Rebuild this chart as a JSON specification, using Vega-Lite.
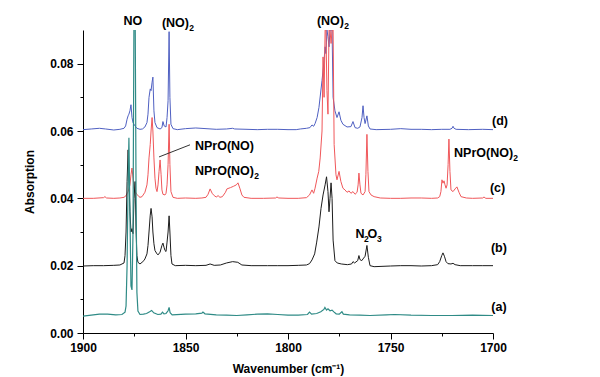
{
  "$schema": "https://vega.github.io/schema/vega-lite/v6.json",
  "width": 410,
  "height": 303,
  "autosize": {"type": "none"},
  "padding": {"left": 83, "top": 30, "right": 107, "bottom": 44},
  "background": "white",
  "config": {
    "view": {"stroke": null},
    "font": "Liberation Sans"
  },
  "datasets": {
    "d": [
      {"wn":1900,"abs":0.0604},{"wn":1896,"abs":0.0606},{"wn":1892,"abs":0.0608},{"wn":1889,"abs":0.0606},{"wn":1885,"abs":0.0603},{"wn":1882,"abs":0.0605},{"wn":1880,"abs":0.0608},{"wn":1879.2,"abs":0.0615},{"wn":1878.5,"abs":0.0635},{"wn":1878,"abs":0.0645},{"wn":1877.6,"abs":0.065},{"wn":1877.1,"abs":0.066},{"wn":1876.6,"abs":0.0678},{"wn":1876.1,"abs":0.064},{"wn":1875.6,"abs":0.0625},{"wn":1875.1,"abs":0.062},{"wn":1874.6,"abs":0.0615},{"wn":1873.7,"abs":0.0608},{"wn":1872.2,"abs":0.0605},{"wn":1871,"abs":0.0606},{"wn":1869.8,"abs":0.0612},{"wn":1868.8,"abs":0.0625},{"wn":1868.3,"abs":0.065},{"wn":1867.8,"abs":0.07},{"wn":1867.2,"abs":0.0725},{"wn":1866.8,"abs":0.072},{"wn":1866.3,"abs":0.0745},{"wn":1865.9,"abs":0.076},{"wn":1865.4,"abs":0.066},{"wn":1864.9,"abs":0.0625},{"wn":1863.9,"abs":0.061},{"wn":1862.4,"abs":0.0606},{"wn":1861.5,"abs":0.061},{"wn":1861.0,"abs":0.0628},{"wn":1860.4,"abs":0.0615},{"wn":1859.5,"abs":0.0612},{"wn":1859.0,"abs":0.064},{"wn":1858.5,"abs":0.069},{"wn":1858.0,"abs":0.0895},{"wn":1857.6,"abs":0.07},{"wn":1857.1,"abs":0.062},{"wn":1856.1,"abs":0.0607},{"wn":1854,"abs":0.0604},{"wn":1850,"abs":0.0607},{"wn":1845,"abs":0.0609},{"wn":1840,"abs":0.0607},{"wn":1835,"abs":0.0605},{"wn":1830,"abs":0.0606},{"wn":1827,"abs":0.0608},{"wn":1826,"abs":0.0606},{"wn":1820,"abs":0.0605},{"wn":1815,"abs":0.0604},{"wn":1810,"abs":0.0605},{"wn":1805,"abs":0.0605},{"wn":1800,"abs":0.0604},{"wn":1796,"abs":0.0604},{"wn":1794,"abs":0.0606},{"wn":1791,"abs":0.0608},{"wn":1789.3,"abs":0.061},{"wn":1788.3,"abs":0.0618},{"wn":1787.5,"abs":0.0614},{"wn":1786.8,"abs":0.0622},{"wn":1785.8,"abs":0.064},{"wn":1784.9,"abs":0.067},{"wn":1783.4,"abs":0.075},{"wn":1782.4,"abs":0.081},{"wn":1781.9,"abs":0.085},{"wn":1781.5,"abs":0.083},{"wn":1781.0,"abs":0.09},{"wn":1780.5,"abs":0.088},{"wn":1780.0,"abs":0.085},{"wn":1779.5,"abs":0.09},{"wn":1778.5,"abs":0.09},{"wn":1778.0,"abs":0.07},{"wn":1777.1,"abs":0.066},{"wn":1776.1,"abs":0.064},{"wn":1775.1,"abs":0.0657},{"wn":1774.2,"abs":0.0632},{"wn":1773.2,"abs":0.062},{"wn":1771.2,"abs":0.0612},{"wn":1769.3,"abs":0.0613},{"wn":1768.3,"abs":0.0628},{"wn":1767.3,"abs":0.061},{"wn":1766,"abs":0.0608},{"wn":1764.9,"abs":0.0612},{"wn":1763.9,"abs":0.064},{"wn":1763.4,"abs":0.0675},{"wn":1762.9,"abs":0.064},{"wn":1762.4,"abs":0.0622},{"wn":1761.5,"abs":0.0645},{"wn":1760.8,"abs":0.0615},{"wn":1760.0,"abs":0.0606},{"wn":1757,"abs":0.0604},{"wn":1750,"abs":0.0605},{"wn":1745,"abs":0.0607},{"wn":1740,"abs":0.0605},{"wn":1735,"abs":0.0605},{"wn":1730,"abs":0.0604},{"wn":1725,"abs":0.0605},{"wn":1721,"abs":0.0605},{"wn":1720,"abs":0.0608},{"wn":1719.5,"abs":0.0614},{"wn":1719,"abs":0.0608},{"wn":1718,"abs":0.0605},{"wn":1712,"abs":0.0604},{"wn":1705,"abs":0.0605},{"wn":1700,"abs":0.0604}
    ],
    "c": [
      {"wn":1900,"abs":0.04},{"wn":1895,"abs":0.04},{"wn":1890,"abs":0.0402},{"wn":1889.3,"abs":0.0405},{"wn":1888.5,"abs":0.0401},{"wn":1885,"abs":0.04},{"wn":1882,"abs":0.0401},{"wn":1880,"abs":0.0403},{"wn":1879,"abs":0.0408},{"wn":1878,"abs":0.042},{"wn":1877.6,"abs":0.0428},{"wn":1877.1,"abs":0.044},{"wn":1876.6,"abs":0.047},{"wn":1876.1,"abs":0.049},{"wn":1875.6,"abs":0.046},{"wn":1875.1,"abs":0.043},{"wn":1874.6,"abs":0.042},{"wn":1873.7,"abs":0.0412},{"wn":1872.7,"abs":0.0405},{"wn":1872.2,"abs":0.0403},{"wn":1871.2,"abs":0.0405},{"wn":1869.8,"abs":0.0418},{"wn":1868.8,"abs":0.044},{"wn":1868.3,"abs":0.047},{"wn":1867.8,"abs":0.052},{"wn":1867.2,"abs":0.056},{"wn":1866.8,"abs":0.06},{"wn":1866.3,"abs":0.064},{"wn":1865.9,"abs":0.06},{"wn":1865.4,"abs":0.052},{"wn":1864.9,"abs":0.046},{"wn":1864.4,"abs":0.043},{"wn":1863.9,"abs":0.042},{"wn":1863.4,"abs":0.044},{"wn":1862.9,"abs":0.048},{"wn":1862.4,"abs":0.0514},{"wn":1861.9,"abs":0.047},{"wn":1861.5,"abs":0.0425},{"wn":1861.0,"abs":0.0412},{"wn":1860.0,"abs":0.041},{"wn":1859.5,"abs":0.0415},{"wn":1859.0,"abs":0.044},{"wn":1858.5,"abs":0.05},{"wn":1858.0,"abs":0.062},{"wn":1857.6,"abs":0.05},{"wn":1857.1,"abs":0.042},{"wn":1856.1,"abs":0.0403},{"wn":1854,"abs":0.04},{"wn":1850,"abs":0.0401},{"wn":1845,"abs":0.04},{"wn":1842,"abs":0.0401},{"wn":1840,"abs":0.0403},{"wn":1839,"abs":0.0412},{"wn":1838,"abs":0.0428},{"wn":1837,"abs":0.0415},{"wn":1836,"abs":0.0408},{"wn":1835,"abs":0.0404},{"wn":1834.1,"abs":0.0408},{"wn":1833.2,"abs":0.0403},{"wn":1832,"abs":0.0405},{"wn":1830.5,"abs":0.0418},{"wn":1829.8,"abs":0.0428},{"wn":1828,"abs":0.0432},{"wn":1826.5,"abs":0.0436},{"wn":1825.2,"abs":0.044},{"wn":1824.4,"abs":0.0446},{"wn":1823.5,"abs":0.043},{"wn":1822.5,"abs":0.041},{"wn":1821.5,"abs":0.0403},{"wn":1818,"abs":0.04},{"wn":1812,"abs":0.04},{"wn":1806,"abs":0.0401},{"wn":1805.4,"abs":0.0404},{"wn":1804.5,"abs":0.0401},{"wn":1800,"abs":0.04},{"wn":1795,"abs":0.04},{"wn":1791,"abs":0.0402},{"wn":1789.5,"abs":0.041},{"wn":1788.3,"abs":0.0425},{"wn":1787.5,"abs":0.0415},{"wn":1786.8,"abs":0.043},{"wn":1785.8,"abs":0.046},{"wn":1785.0,"abs":0.048},{"wn":1784.3,"abs":0.052},{"wn":1783.4,"abs":0.06},{"wn":1782.9,"abs":0.082},{"wn":1782.4,"abs":0.07},{"wn":1781.9,"abs":0.09},{"wn":1781.5,"abs":0.09},{"wn":1781.0,"abs":0.072},{"wn":1780.5,"abs":0.065},{"wn":1780.0,"abs":0.09},{"wn":1779.5,"abs":0.09},{"wn":1779.0,"abs":0.086},{"wn":1778.5,"abs":0.09},{"wn":1778.0,"abs":0.09},{"wn":1777.5,"abs":0.056},{"wn":1776.6,"abs":0.047},{"wn":1776.1,"abs":0.0455},{"wn":1775.1,"abs":0.048},{"wn":1774.2,"abs":0.045},{"wn":1773.2,"abs":0.043},{"wn":1772.2,"abs":0.0425},{"wn":1771.2,"abs":0.0418},{"wn":1770.2,"abs":0.0422},{"wn":1769.3,"abs":0.0415},{"wn":1768.3,"abs":0.042},{"wn":1767.3,"abs":0.0412},{"wn":1766.3,"abs":0.0418},{"wn":1765.8,"abs":0.044},{"wn":1765.4,"abs":0.0475},{"wn":1764.9,"abs":0.044},{"wn":1764.4,"abs":0.0415},{"wn":1763.4,"abs":0.041},{"wn":1762.4,"abs":0.042},{"wn":1762.0,"abs":0.047},{"wn":1761.5,"abs":0.059},{"wn":1761.0,"abs":0.048},{"wn":1760.5,"abs":0.042},{"wn":1759.5,"abs":0.041},{"wn":1758,"abs":0.0405},{"wn":1755,"abs":0.0401},{"wn":1750,"abs":0.04},{"wn":1745,"abs":0.04},{"wn":1740,"abs":0.0401},{"wn":1735,"abs":0.0401},{"wn":1730,"abs":0.04},{"wn":1727,"abs":0.0401},{"wn":1726,"abs":0.0405},{"wn":1725.4,"abs":0.042},{"wn":1724.9,"abs":0.0455},{"wn":1724.4,"abs":0.0445},{"wn":1723.9,"abs":0.0452},{"wn":1723.4,"abs":0.044},{"wn":1722.9,"abs":0.043},{"wn":1722.4,"abs":0.044},{"wn":1721.9,"abs":0.05},{"wn":1721.5,"abs":0.0576},{"wn":1721.0,"abs":0.048},{"wn":1720.5,"abs":0.0425},{"wn":1719.5,"abs":0.042},{"wn":1718.5,"abs":0.0428},{"wn":1717.6,"abs":0.0434},{"wn":1716.6,"abs":0.0418},{"wn":1715.6,"abs":0.0405},{"wn":1713,"abs":0.0401},{"wn":1710,"abs":0.04},{"wn":1705,"abs":0.0401},{"wn":1704.4,"abs":0.0404},{"wn":1703.5,"abs":0.04},{"wn":1700,"abs":0.04}
    ],
    "b": [
      {"wn":1900,"abs":0.0199},{"wn":1895,"abs":0.02},{"wn":1890,"abs":0.02},{"wn":1885,"abs":0.0201},{"wn":1882,"abs":0.0202},{"wn":1880,"abs":0.0208},{"wn":1879.5,"abs":0.023},{"wn":1879,"abs":0.03},{"wn":1878.5,"abs":0.045},{"wn":1878,"abs":0.0544},{"wn":1877.6,"abs":0.046},{"wn":1877.1,"abs":0.036},{"wn":1876.6,"abs":0.03},{"wn":1876.1,"abs":0.031},{"wn":1875.6,"abs":0.0295},{"wn":1875.1,"abs":0.04},{"wn":1874.6,"abs":0.045},{"wn":1874.1,"abs":0.03},{"wn":1873.7,"abs":0.023},{"wn":1873.2,"abs":0.021},{"wn":1872.2,"abs":0.0205},{"wn":1871.2,"abs":0.021},{"wn":1870.3,"abs":0.0215},{"wn":1869.8,"abs":0.022},{"wn":1868.8,"abs":0.0235},{"wn":1868.3,"abs":0.026},{"wn":1867.8,"abs":0.03},{"wn":1867.2,"abs":0.035},{"wn":1866.8,"abs":0.037},{"wn":1866.3,"abs":0.0345},{"wn":1865.9,"abs":0.03},{"wn":1865.4,"abs":0.0265},{"wn":1864.9,"abs":0.0245},{"wn":1863.9,"abs":0.0235},{"wn":1863.4,"abs":0.0232},{"wn":1862.4,"abs":0.024},{"wn":1861.5,"abs":0.026},{"wn":1861.0,"abs":0.0267},{"wn":1860.5,"abs":0.0255},{"wn":1860.0,"abs":0.0245},{"wn":1859.5,"abs":0.0242},{"wn":1859.0,"abs":0.027},{"wn":1858.5,"abs":0.03},{"wn":1858.0,"abs":0.0348},{"wn":1857.6,"abs":0.03},{"wn":1857.1,"abs":0.023},{"wn":1856.6,"abs":0.0205},{"wn":1855,"abs":0.02},{"wn":1850,"abs":0.0201},{"wn":1845,"abs":0.02},{"wn":1840,"abs":0.0201},{"wn":1838,"abs":0.0205},{"wn":1836,"abs":0.0201},{"wn":1833,"abs":0.0202},{"wn":1830,"abs":0.0208},{"wn":1827,"abs":0.0212},{"wn":1824.5,"abs":0.021},{"wn":1822.5,"abs":0.0202},{"wn":1818,"abs":0.02},{"wn":1810,"abs":0.02},{"wn":1805,"abs":0.02},{"wn":1800,"abs":0.02},{"wn":1795,"abs":0.0201},{"wn":1791,"abs":0.0202},{"wn":1789.5,"abs":0.0206},{"wn":1788.3,"abs":0.0217},{"wn":1787,"abs":0.0235},{"wn":1786,"abs":0.027},{"wn":1784.9,"abs":0.0315},{"wn":1783.9,"abs":0.037},{"wn":1782.9,"abs":0.041},{"wn":1781.9,"abs":0.044},{"wn":1781.2,"abs":0.0464},{"wn":1780.5,"abs":0.042},{"wn":1780.0,"abs":0.036},{"wn":1779.5,"abs":0.04},{"wn":1779.0,"abs":0.0446},{"wn":1778.5,"abs":0.04},{"wn":1778.0,"abs":0.0276},{"wn":1777.1,"abs":0.0215},{"wn":1776,"abs":0.0208},{"wn":1774,"abs":0.0205},{"wn":1771,"abs":0.0203},{"wn":1769,"abs":0.0205},{"wn":1768.3,"abs":0.0212},{"wn":1767.5,"abs":0.0208},{"wn":1766,"abs":0.0215},{"wn":1765.4,"abs":0.023},{"wn":1764.9,"abs":0.0218},{"wn":1764,"abs":0.0215},{"wn":1763.4,"abs":0.022},{"wn":1762.4,"abs":0.0228},{"wn":1761.5,"abs":0.026},{"wn":1760.8,"abs":0.0225},{"wn":1760.0,"abs":0.02},{"wn":1758,"abs":0.0197},{"wn":1750,"abs":0.0199},{"wn":1745,"abs":0.02},{"wn":1740,"abs":0.02},{"wn":1735,"abs":0.0199},{"wn":1730,"abs":0.02},{"wn":1727,"abs":0.0203},{"wn":1726,"abs":0.0212},{"wn":1725,"abs":0.023},{"wn":1724.4,"abs":0.0238},{"wn":1723.7,"abs":0.0228},{"wn":1722.9,"abs":0.0212},{"wn":1722,"abs":0.0206},{"wn":1720.5,"abs":0.0205},{"wn":1719.5,"abs":0.0207},{"wn":1718.5,"abs":0.0203},{"wn":1716,"abs":0.02},{"wn":1710,"abs":0.02},{"wn":1705,"abs":0.02},{"wn":1700,"abs":0.02}
    ],
    "a": [
      {"wn":1900,"abs":0.005},{"wn":1896,"abs":0.0053},{"wn":1892,"abs":0.0056},{"wn":1888,"abs":0.0056},{"wn":1884,"abs":0.0054},{"wn":1881,"abs":0.0055},{"wn":1879.5,"abs":0.0062},{"wn":1879,"abs":0.008},{"wn":1878.5,"abs":0.02},{"wn":1878,"abs":0.045},{"wn":1877.6,"abs":0.058},{"wn":1877.1,"abs":0.035},{"wn":1876.6,"abs":0.014},{"wn":1876.1,"abs":0.0128},{"wn":1875.6,"abs":0.03},{"wn":1875.1,"abs":0.1},{"wn":1874.6,"abs":0.1},{"wn":1874.1,"abs":0.04},{"wn":1873.7,"abs":0.012},{"wn":1873.2,"abs":0.0065},{"wn":1872.2,"abs":0.0055},{"wn":1870.5,"abs":0.0056},{"wn":1869,"abs":0.0058},{"wn":1867.5,"abs":0.0063},{"wn":1866.5,"abs":0.0067},{"wn":1865.5,"abs":0.006},{"wn":1863.5,"abs":0.0055},{"wn":1862,"abs":0.0056},{"wn":1861.2,"abs":0.0062},{"wn":1860.5,"abs":0.0057},{"wn":1859.5,"abs":0.0058},{"wn":1858.5,"abs":0.0066},{"wn":1858.0,"abs":0.0076},{"wn":1857.5,"abs":0.006},{"wn":1856.5,"abs":0.0054},{"wn":1850,"abs":0.0056},{"wn":1845,"abs":0.0057},{"wn":1842,"abs":0.0059},{"wn":1841.5,"abs":0.0062},{"wn":1840.5,"abs":0.0057},{"wn":1835,"abs":0.0054},{"wn":1830,"abs":0.0053},{"wn":1825,"abs":0.0052},{"wn":1820,"abs":0.0054},{"wn":1815,"abs":0.0056},{"wn":1810,"abs":0.0057},{"wn":1805,"abs":0.0055},{"wn":1800,"abs":0.0053},{"wn":1795,"abs":0.0053},{"wn":1790.5,"abs":0.0055},{"wn":1789.5,"abs":0.0062},{"wn":1788.5,"abs":0.0056},{"wn":1786,"abs":0.0058},{"wn":1784,"abs":0.0063},{"wn":1782.5,"abs":0.007},{"wn":1782,"abs":0.0076},{"wn":1781.2,"abs":0.0068},{"wn":1780.5,"abs":0.0072},{"wn":1779.5,"abs":0.0066},{"wn":1778.5,"abs":0.0068},{"wn":1777.5,"abs":0.0062},{"wn":1776.5,"abs":0.0057},{"wn":1775,"abs":0.0056},{"wn":1773.7,"abs":0.0063},{"wn":1773,"abs":0.0056},{"wn":1770,"abs":0.0054},{"wn":1765,"abs":0.0053},{"wn":1760,"abs":0.0052},{"wn":1752,"abs":0.0054},{"wn":1748,"abs":0.0055},{"wn":1740,"abs":0.0053},{"wn":1730,"abs":0.0052},{"wn":1720,"abs":0.0052},{"wn":1710,"abs":0.0053},{"wn":1700,"abs":0.0052}
    ],
    "main": [
      {"t":"NO","wn":1880.2,"abs":0.0915},
      {"t":"(NO)","wn":1861.5,"abs":0.091},
      {"t":"(NO)","wn":1785.9,"abs":0.0915},
      {"t":"NPrO(NO)","wn":1845.4,"abs":0.0544},
      {"t":"NPrO(NO)","wn":1845.4,"abs":0.0469},
      {"t":"N","wn":1767.1,"abs":0.0281},
      {"t":"O","wn":1761.2,"abs":0.0281},
      {"t":"NPrO(NO)","wn":1719.0,"abs":0.0524},
      {"t":"(d)","wn":1700.5,"abs":0.0619},
      {"t":"(c)","wn":1701.5,"abs":0.042},
      {"t":"(b)","wn":1701.0,"abs":0.0242},
      {"t":"(a)","wn":1700.8,"abs":0.0065}
    ],
    "sub": [
      {"t":"2","wn":1848.2,"abs":0.091},
      {"t":"2","wn":1772.6,"abs":0.0915},
      {"t":"2","wn":1816.5,"abs":0.0469},
      {"t":"2","wn":1762.9,"abs":0.0281},
      {"t":"3","wn":1756.6,"abs":0.0281},
      {"t":"2","wn":1690.1,"abs":0.0524}
    ],
    "pointer": [
      {"wn":1847.8,"abs":0.0559,"wn2":1862.9,"abs2":0.0523}
    ]
  },
  "encoding": {
    "x": {
      "field": "wn",
      "type": "quantitative",
      "scale": {"domain": [1700, 1900], "reverse": true, "nice": false, "zero": false},
      "axis": {
        "title": "Wavenumber (cm⁻¹)",
        "values": [1900, 1875, 1850, 1825, 1800, 1775, 1750, 1725, 1700],
        "format": "d",
        "labelExpr": "datum.value % 50 == 0 ? datum.label : ''",
        "tickSize": {"condition": {"test": "datum.value % 50 == 0", "value": 6}, "value": 3},
        "grid": false,
        "domainColor": "#000",
        "tickColor": "#000",
        "labelColor": "#000",
        "titleColor": "#000",
        "labelFontSize": 12,
        "labelFontWeight": "bold",
        "titleFontSize": 12,
        "titleFontWeight": "bold",
        "labelPadding": 3,
        "titlePadding": 10,
        "labelFlush": false
      }
    },
    "y": {
      "field": "abs",
      "type": "quantitative",
      "scale": {"domain": [0, 0.09], "nice": false, "zero": false},
      "axis": {
        "title": "Absorption",
        "values": [0, 0.01, 0.02, 0.03, 0.04, 0.05, 0.06, 0.07, 0.08],
        "labelExpr": "round(datum.value * 100) % 2 == 0 ? format(datum.value, '.2f') : ''",
        "tickSize": {"condition": {"test": "round(datum.value * 100) % 2 == 0", "value": 6}, "value": 3},
        "grid": false,
        "domainColor": "#000",
        "tickColor": "#000",
        "labelColor": "#000",
        "titleColor": "#000",
        "labelFontSize": 12,
        "labelFontWeight": "bold",
        "titleFontSize": 12,
        "titleFontWeight": "bold",
        "labelPadding": 4,
        "titlePadding": 13,
        "labelFlush": false
      }
    }
  },
  "layer": [
    {"data": {"name": "d"}, "mark": {"type": "line", "clip": true, "color": "#4f60c2", "strokeWidth": 1}},
    {"data": {"name": "c"}, "mark": {"type": "line", "clip": true, "color": "#f0575a", "strokeWidth": 1}},
    {"data": {"name": "b"}, "mark": {"type": "line", "clip": true, "color": "#1c1c1c", "strokeWidth": 1}},
    {"data": {"name": "a"}, "mark": {"type": "line", "clip": true, "color": "#2f8b86", "strokeWidth": 1.2}},
    {
      "data": {"name": "pointer"},
      "mark": {"type": "rule", "color": "#333", "strokeWidth": 1},
      "encoding": {
        "x2": {"field": "wn2"},
        "y2": {"field": "abs2"}
      }
    },
    {
      "data": {"name": "main"},
      "mark": {"type": "text", "fontSize": 12.5, "fontWeight": "bold", "align": "left", "baseline": "alphabetic", "color": "#000"},
      "encoding": {
        "text": {"field": "t"}
      }
    },
    {
      "data": {"name": "sub"},
      "mark": {"type": "text", "fontSize": 8.5, "fontWeight": "bold", "align": "left", "baseline": "alphabetic", "dy": 4, "color": "#000"},
      "encoding": {
        "text": {"field": "t"}
      }
    }
  ]
}
